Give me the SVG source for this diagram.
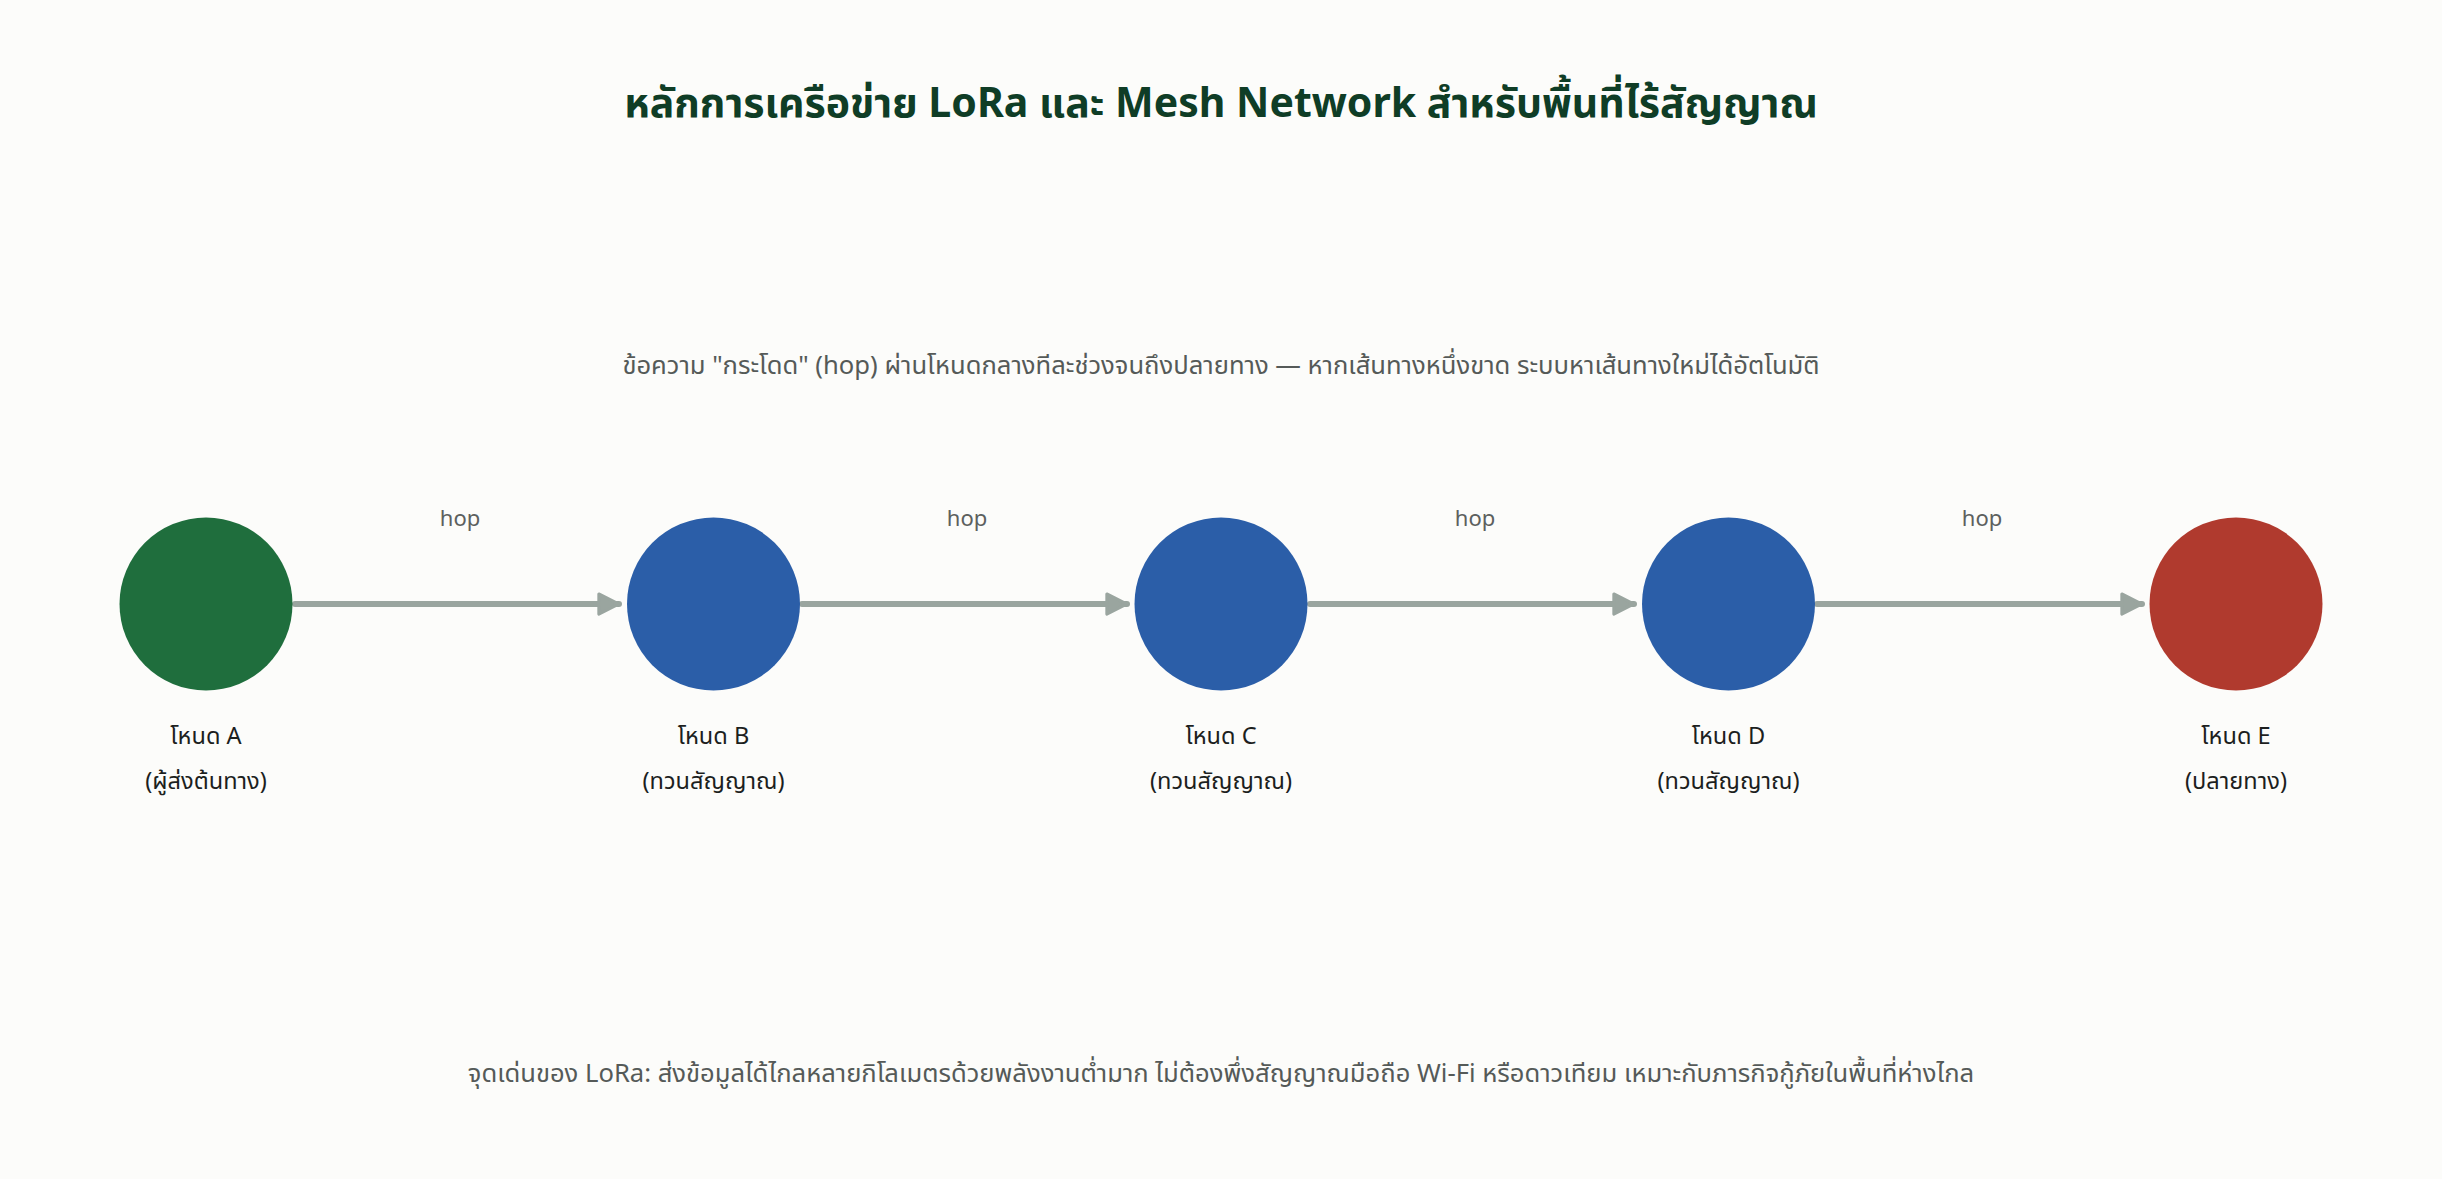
<svg xmlns="http://www.w3.org/2000/svg" width="2442" height="1179" viewBox="0 0 2442 1179">
<defs>
<style>
.t{font-family:"Noto Sans","Noto Sans Thai","DejaVu Sans",sans-serif;text-anchor:middle}
.title{font-size:41px;font-weight:700;fill:#0f3d26}
.sub{font-size:25.6px;fill:#555a58}
.hop{font-size:22px;fill:#5c605e}
.lbl{font-size:23.6px;fill:#1c1f1e}
.edge{stroke:#9aa59f;stroke-width:6;stroke-linecap:round;fill:none}
</style>
<marker id="ah" viewBox="0 0 10 10" refX="9" refY="5" markerWidth="4.2" markerHeight="4.2" orient="auto" markerUnits="strokeWidth">
<path d="M1,1 L9,5 L1,9 Z" fill="#9aa59f" stroke="#9aa59f" stroke-width="1.2" stroke-linejoin="round"/>
</marker>
</defs>
<rect width="2442" height="1179" fill="#fcfcfa"/>
<text class="t title" x="1221" y="117">หลักการเครือข่าย LoRa และ Mesh Network สำหรับพื้นที่ไร้สัญญาณ</text>
<text class="t sub" x="1221" y="374">ข้อความ "กระโดด" (hop) ผ่านโหนดกลางทีละช่วงจนถึงปลายทาง — หากเส้นทางหนึ่งขาด ระบบหาเส้นทางใหม่ได้อัตโนมัติ</text>
<g id="connectors">
<line class="edge" x1="295" y1="604" x2="619" y2="604" marker-end="url(#ah)"/>
<line class="edge" x1="802" y1="604" x2="1127" y2="604" marker-end="url(#ah)"/>
<line class="edge" x1="1310" y1="604" x2="1634" y2="604" marker-end="url(#ah)"/>
<line class="edge" x1="1817" y1="604" x2="2142" y2="604" marker-end="url(#ah)"/>
<text class="t hop" x="460" y="526">hop</text>
<text class="t hop" x="967" y="526">hop</text>
<text class="t hop" x="1475" y="526">hop</text>
<text class="t hop" x="1982" y="526">hop</text>
</g>
<g id="nodeA"><circle cx="206" cy="604" r="86.5" fill="#1f6e3d"/><text class="t lbl" x="206" y="744">โหนด A</text><text class="t lbl" x="206" y="789">(ผู้ส่งต้นทาง)</text></g>
<g id="nodeB"><circle cx="713.5" cy="604" r="86.5" fill="#2b5ea8"/><text class="t lbl" x="713.5" y="744">โหนด B</text><text class="t lbl" x="713.5" y="789">(ทวนสัญญาณ)</text></g>
<g id="nodeC"><circle cx="1221" cy="604" r="86.5" fill="#2b5ea8"/><text class="t lbl" x="1221" y="744">โหนด C</text><text class="t lbl" x="1221" y="789">(ทวนสัญญาณ)</text></g>
<g id="nodeD"><circle cx="1728.5" cy="604" r="86.5" fill="#2b5ea8"/><text class="t lbl" x="1728.5" y="744">โหนด D</text><text class="t lbl" x="1728.5" y="789">(ทวนสัญญาณ)</text></g>
<g id="nodeE"><circle cx="2236" cy="604" r="86.5" fill="#b03a2e"/><text class="t lbl" x="2236" y="744">โหนด E</text><text class="t lbl" x="2236" y="789">(ปลายทาง)</text></g>
<text class="t sub" x="1221" y="1082">จุดเด่นของ LoRa: ส่งข้อมูลได้ไกลหลายกิโลเมตรด้วยพลังงานต่ำมาก ไม่ต้องพึ่งสัญญาณมือถือ Wi-Fi หรือดาวเทียม เหมาะกับภารกิจกู้ภัยในพื้นที่ห่างไกล</text>
</svg>
